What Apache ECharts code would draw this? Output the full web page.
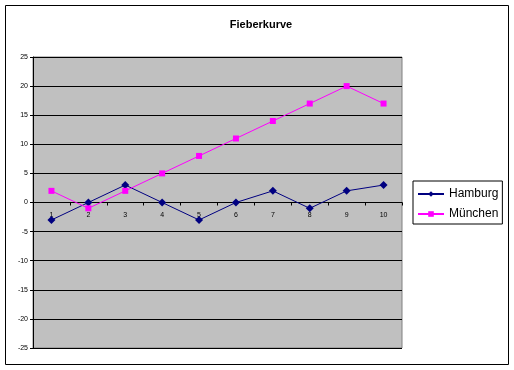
<!DOCTYPE html>
<html><head><meta charset="utf-8">
<script src="https://cdn.jsdelivr.net/npm/echarts@6/dist/echarts.min.js"></script>
<style>html,body{margin:0;padding:0;background:#fff}#c{width:514px;height:370px}</style>
</head><body><div id="c"></div>
<script>
const categories = ['1','2','3','4','5','6','7','8','9','10'];
const hamburg = [-3, 0, 3, 0, -3, 0, 2, -1, 2, 3];
const muenchen = [2, -1, 2, 5, 8, 11, 14, 17, 20, 17];
const seriesNames = ['Hamburg', 'München'];
const titleText = 'Fieberkurve';

const chart = echarts.init(document.getElementById('c'), null, {renderer: 'canvas'});
chart.setOption({
  animation: false,
  backgroundColor: '#fff',
  title: {text: titleText, left: 256, top: 14, textAlign: 'center',
    textStyle: {fontFamily: 'Arial, Liberation Sans', fontSize: 11, fontWeight: 'bold', color: '#000'}},
  graphic: [{type: 'rect', shape: {x: 5.5, y: 5.5, width: 503, height: 359}, style: {fill: 'none', stroke: '#000', lineWidth: 1}, z: -1}],
  grid: {left: 33, top: 57, width: 369, height: 291, show: true, backgroundColor: '#C0C0C0', borderColor: '#808080', borderWidth: 1},
  legend: {orient: 'vertical', left: 413, top: 181, itemWidth: 26, itemHeight: 7, itemGap: 8,
    padding: [7, 4, 4, 4], borderColor: '#000', borderWidth: 1, backgroundColor: '#fff',
    textStyle: {fontFamily: 'Arial, Liberation Sans', fontSize: 12, color: '#000'},
    data: seriesNames},
  xAxis: {type: 'category', data: categories, boundaryGap: true, offset: -145.5,
    axisLine: {onZero: false, lineStyle: {color: '#000', width: 1}},
    axisTick: {show: true, inside: false, length: 3, lineStyle: {color: '#000'}},
    axisLabel: {fontFamily: 'Arial, Liberation Sans', fontSize: 7, color: '#000', margin: 9},
    splitLine: {show: false}},
  yAxis: {type: 'value', min: -25, max: 25, interval: 5,
    axisLine: {show: true, lineStyle: {color: '#000'}},
    axisTick: {show: true, length: 3, lineStyle: {color: '#000'}},
    axisLabel: {fontFamily: 'Arial, Liberation Sans', fontSize: 7, color: '#000', margin: 5},
    splitLine: {show: true, lineStyle: {color: '#000', width: 1}}},
  series: [
    {name: seriesNames[0], type: 'line', data: hamburg, symbol: 'diamond', symbolSize: 8,
      itemStyle: {color: '#000080'}, lineStyle: {color: '#000080', width: 1}},
    {name: seriesNames[1], type: 'line', data: muenchen, symbol: 'rect', symbolSize: 6,
      itemStyle: {color: '#FF00FF'}, lineStyle: {color: '#FF00FF', width: 1}}
  ]
});
</script></body></html>
